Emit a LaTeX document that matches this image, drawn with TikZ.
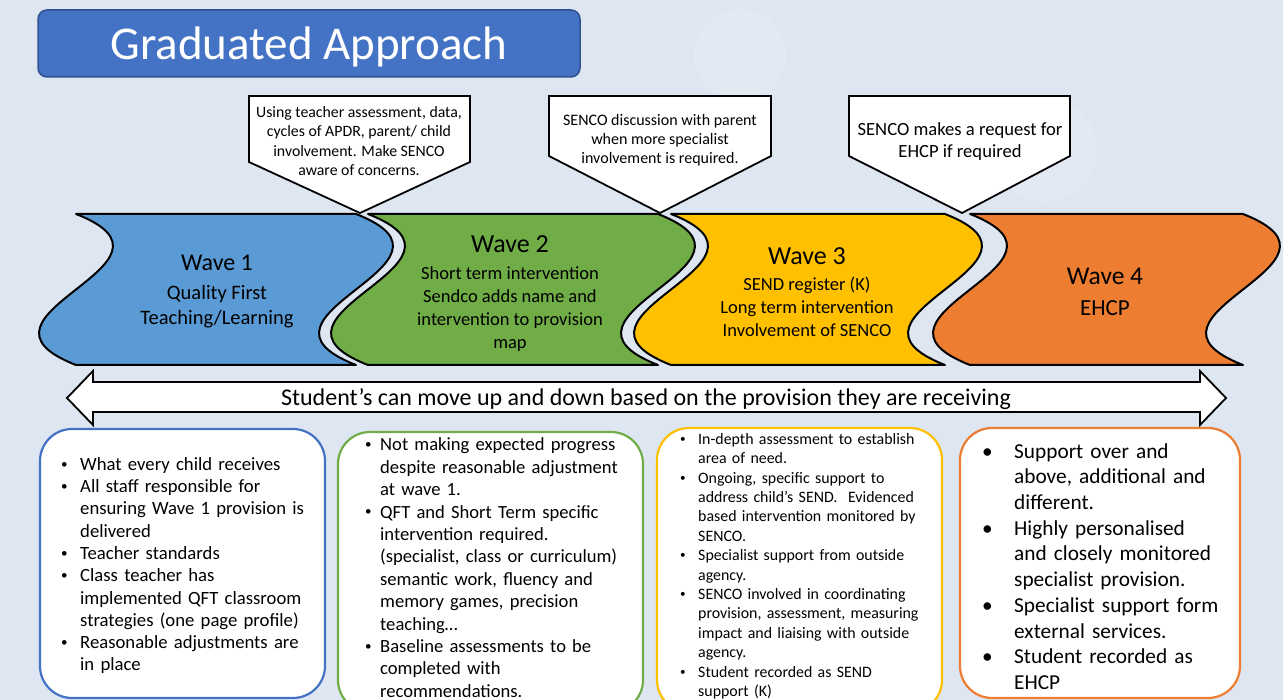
\documentclass[tikz,border=0pt]{standalone}
\usepackage{fontspec}
\setmainfont{Carlito}
\usetikzlibrary{positioning}

\definecolor{bgblue}{RGB}{222,230,242}
\definecolor{titleblue}{RGB}{68,114,196}
\definecolor{titleedge}{RGB}{47,82,143}
\definecolor{waveblue}{RGB}{91,155,213}
\definecolor{wavegreen}{RGB}{112,173,71}
\definecolor{waveyellow}{RGB}{255,192,0}
\definecolor{waveorange}{RGB}{237,125,49}

\newcommand{\fs}[2]{\fontsize{#1}{#2}\selectfont}
\newcommand{\drawwave}[3]{\draw[wave, fill=#3] (#1,214) -- (#2,214) .. controls (#2+128,264) and (#2-128,315) .. (#2,365) -- (#1,365) .. controls (#1-128,315) and (#1+128,264) .. (#1,214) -- cycle;}
\newcommand{\drawcallout}[4]{\draw[callout] (#1,96) -- (#2,96) -- (#2,#4) -- (#3,213) -- (#1,#4) -- cycle;}
\newcommand{\bitem}[2]{\par\noindent\hangindent=#1\hangafter=1\makebox[#1][l]{\raisebox{0.12em}{\scalebox{0.7}{\textbullet}}}#2\par}
\newcommand{\bigitem}[2]{\par\noindent\hangindent=#1\hangafter=1\makebox[#1][l]{\textbullet}#2\par}

\begin{document}
\begin{tikzpicture}[x=1pt, y=-1pt,
  wave/.style={draw=black, line width=2pt, line join=round},
  callout/.style={draw=black, fill=white, line width=1.8pt, line join=miter},
  wavetext/.style={align=center, inner sep=0pt},
  calltext/.style={align=center, inner sep=0pt},
  listbox/.style={fill=white, line width=2.2pt, rounded corners=32pt},
  listtext/.style={anchor=west, inner sep=0pt, text width=#1, align=left}]

\useasboundingbox (0,0) rectangle (1283,700);
\fill[bgblue] (0,0) rectangle (1283,700);
\fill[white, opacity=0.15] (740,55) circle (46);
\fill[white, opacity=0.15] (1045,150) circle (52);

\draw[fill=titleblue, draw=titleedge, line width=1.5pt, rounded corners=9pt] (38,10) rectangle (580,77);
\node[text=white, font=\fs{47}{56}, inner sep=0pt] (title) at (309,47) {Graduated Approach};

\drawwave{76}{356}{waveblue}
\drawwave{368}{658}{wavegreen}
\drawwave{671}{945}{waveyellow}
\drawwave{970}{1243}{waveorange}

\drawcallout{249}{470}{360}{162}
\drawcallout{549}{771}{660}{156}
\drawcallout{849}{1070}{962}{156}

\node[calltext, font=\fs{15.8}{19.3}] (note1) at (359,141) {Using teacher assessment, data,\\cycles of APDR, parent/ child\\involvement. Make SENCO\\aware of concerns.};
\node[calltext, font=\fs{16}{19}] (note2) at (660,140) {SENCO discussion with parent\\when more specialist\\involvement is required.};
\node[calltext, font=\fs{18.6}{22}] (note3) at (960,142) {SENCO makes a request for\\EHCP if required};

\node[wavetext, font=\fs{20.5}{25}] (wave1) at (217,292) {{\fs{24}{29}Wave 1}\\[4pt]Quality First\\Teaching/Learning};
\node[wavetext, font=\fs{18.5}{23}] (wave2) at (510,294) {{\fs{26}{27}Wave 2}\\[4pt]Short term intervention\\Sendco adds name and\\intervention to provision\\map};
\node[wavetext, font=\fs{18.5}{23}] (wave3) at (807,292) {{\fs{26}{27}Wave 3}\\[3pt]SEND register (K)\\Long term intervention\\Involvement of SENCO};
\node[wavetext, font=\fs{23}{28}] (wave4) at (1105,292) {{\fs{25.5}{29}Wave 4}\\[3pt]EHCP};

\draw[fill=white, line width=1.8pt, line join=miter] (67,398) -- (93,371) -- (93,382) -- (1200,382) -- (1200,371) -- (1226,398) -- (1200,425) -- (1200,412) -- (93,412) -- (93,425) -- cycle;
\node[font=\fs{24}{29}, inner sep=0pt] (move) at (646,399) {Student’s can move up and down based on the provision they are receiving};

\draw[listbox, draw=titleblue] (40,429) rectangle (325,698);
\draw[listbox, draw=wavegreen] (338,432) rectangle (643,712);
\draw[listbox, draw=waveyellow] (657,428) rectangle (942,712);
\draw[listbox, draw=waveorange] (960,428) rectangle (1240,698);

\node[listtext=262pt, font=\fs{18.7}{22.3}] (list1) at (61,561) {%
\bitem{19pt}{What every child receives}%
\bitem{19pt}{All staff responsible for\newline ensuring Wave 1 provision is\newline delivered}%
\bitem{19pt}{Teacher standards}%
\bitem{19pt}{Class teacher has\newline implemented QFT classroom\newline strategies (one page profile)}%
\bitem{19pt}{Reasonable adjustments are\newline in place}};

\node[listtext=275pt, font=\fs{18.6}{22.4}] (list2) at (365,563) {%
\bitem{15pt}{Not making expected progress\newline despite reasonable adjustment\newline at wave 1.}%
\bitem{15pt}{QFT and Short Term specific\newline intervention required.\newline (specialist, class or curriculum)\newline semantic work, fluency and\newline memory games, precision\newline teaching…}%
\bitem{15pt}{Baseline assessments to be\newline completed with\newline recommendations.}};

\node[listtext=255pt, font=\fs{15.9}{19.4}] (list3) at (680,562) {%
\bitem{18pt}{In-depth assessment to establish\newline area of need.}%
\bitem{18pt}{Ongoing, specific support to\newline address child’s SEND.~ Evidenced\newline based intervention monitored by\newline SENCO.}%
\bitem{18pt}{Specialist support from outside\newline agency.}%
\bitem{18pt}{SENCO involved in coordinating\newline provision, assessment, measuring\newline impact and liaising with outside\newline agency.}%
\bitem{18pt}{Student recorded as SEND\newline support (K)}};

\node[listtext=250pt, font=\fs{21.3}{25.7}] (list4) at (982,561) {%
\bigitem{32pt}{Support over and\newline above, additional and\newline different.}%
\bigitem{32pt}{Highly personalised\newline and closely monitored\newline specialist provision.}%
\bigitem{32pt}{Specialist support form\newline external services.}%
\bigitem{32pt}{Student recorded as\newline EHCP}};

\end{tikzpicture}
\end{document}
